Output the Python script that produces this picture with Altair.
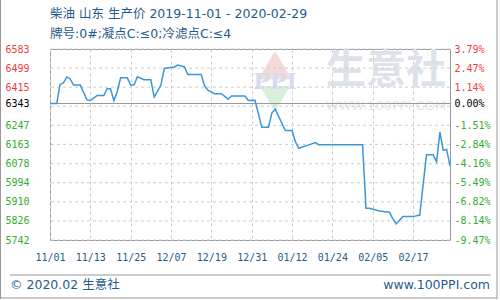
import json
import altair as alt
import pandas as pd

# ---- data ----
dates = ["2019-11-01", "2019-11-03", "2019-11-04", "2019-11-05", "2019-11-06", "2019-11-07",
         "2019-11-08", "2019-11-10", "2019-11-12", "2019-11-13", "2019-11-15", "2019-11-17",
         "2019-11-18", "2019-11-19", "2019-11-20", "2019-11-21", "2019-11-22", "2019-11-24",
         "2019-11-25", "2019-11-26", "2019-11-27", "2019-11-29", "2019-12-01", "2019-12-02",
         "2019-12-04", "2019-12-05", "2019-12-08", "2019-12-09", "2019-12-11", "2019-12-12",
         "2019-12-16", "2019-12-17", "2019-12-18", "2019-12-20", "2019-12-22", "2019-12-24",
         "2019-12-25", "2019-12-29", "2019-12-30", "2020-01-01", "2020-01-03", "2020-01-05",
         "2020-01-06", "2020-01-07", "2020-01-10", "2020-01-12", "2020-01-13", "2020-01-14",
         "2020-01-17", "2020-01-19", "2020-01-20", "2020-02-02", "2020-02-03", "2020-02-04",
         "2020-02-07", "2020-02-10", "2020-02-11", "2020-02-12", "2020-02-14", "2020-02-17",
         "2020-02-19", "2020-02-21", "2020-02-23", "2020-02-24", "2020-02-25", "2020-02-26",
         "2020-02-27", "2020-02-28"]
prices = [6343, 6343, 6427, 6434, 6460, 6451,
          6424, 6424, 6359, 6356, 6378, 6378,
          6408, 6408, 6356, 6395, 6456, 6456,
          6424, 6424, 6461, 6448, 6448, 6371,
          6424, 6497, 6504, 6512, 6504, 6471,
          6471, 6420, 6402, 6386, 6386, 6362,
          6376, 6376, 6356, 6357, 6239, 6239,
          6301, 6318, 6224, 6224, 6175, 6146,
          6161, 6171, 6161, 6161, 5882, 5882,
          5870, 5864, 5835, 5813, 5845, 5845,
          5852, 6117, 6117, 6086, 6217, 6137,
          6141, 6068]

base_price = 6343
y_ticks = [5742, 5826, 5910, 5994, 6078, 6163, 6247, 6343, 6415, 6499, 6583]
pct_labels = ["-9.47%", "-8.14%", "-6.82%", "-5.49%", "-4.16%", "-2.84%", "-1.51%",
              "0.00%", "1.14%", "2.47%", "3.79%"]
grid_values = [5742, 5826, 5910, 5994, 6078, 6163, 6247, 6331, 6415, 6499, 6583]
x_tick_dates = [(2019, 11, 1), (2019, 11, 13), (2019, 11, 25), (2019, 12, 7), (2019, 12, 19),
                (2019, 12, 31), (2020, 1, 12), (2020, 1, 24), (2020, 2, 5), (2020, 2, 17)]
x_domain = [(2019, 11, 1), (2020, 2, 28)]

title_text = "柴油 山东 生产价 2019-11-01 - 2020-02-29"
subtitle_text = "牌号:0#;凝点C:≤0;冷滤点C:≤4"
footer_left = "© 2020.02 生意社"
footer_right = "www.100PPI.com"

# ---- styles ----
RED = "#f43a3a"
GREEN = "#2fae2f"
BLUE_TXT = "#1f5c8b"
LINE = "#3b97d9"
FONT = "DejaVu Sans, Noto Sans CJK SC"
MONO = "DejaVu Sans Mono"

def dt(t):
    return alt.DateTime(year=t[0], month=t[1], date=t[2], utc=True)

df = pd.DataFrame({"date": dates, "price": prices})
grid_df = pd.DataFrame({"g": grid_values})
base_df = pd.DataFrame({"b": [base_price]})

yscale = alt.Scale(domain=[y_ticks[0], y_ticks[-1]], nice=False, zero=False)
label_color = {
    "condition": [
        {"test": f"datum.value > {base_price + 1}", "value": RED},
        {"test": f"datum.value < {base_price - 1}", "value": GREEN},
    ],
    "value": "#000000",
}

grid = alt.Chart(grid_df).mark_rule(color="#cccccc", strokeDash=[3, 3], strokeWidth=1).encode(
    y=alt.Y("g:Q", scale=yscale, axis=None)
)

baseline = alt.Chart(base_df).mark_rule(color="#999999", strokeWidth=1).encode(
    y=alt.Y(
        "b:Q",
        scale=yscale,
        axis=alt.Axis(
            orient="right", values=y_ticks, title=None, ticks=False, domain=False, grid=False,
            labelExpr=f"{json.dumps(pct_labels)}[indexof({json.dumps(y_ticks)}, datum.value)]",
            labelColor=label_color, labelFont=MONO, labelFontSize=10, labelAlign="left",
            labelPadding=4, labelBaseline="middle", labelOverlap=False,
        ),
    )
)

line = alt.Chart(df).mark_line(color=LINE, strokeWidth=1.5, interpolate="linear").encode(
    x=alt.X(
        "date:T",
        scale=alt.Scale(type="utc", domain=[dt(x_domain[0]), dt(x_domain[1])]),
        axis=alt.Axis(
            values=[dt(t) for t in x_tick_dates], format="%m/%d", title=None, ticks=False,
            domain=False, grid=True, gridColor="#cccccc", gridDash=[3, 3], labelColor=BLUE_TXT,
            labelFont=MONO, labelFontSize=10, labelPadding=12, labelOverlap=False,
            labelFlush=False,
        ),
    ),
    y=alt.Y(
        "price:Q",
        scale=yscale,
        axis=alt.Axis(
            orient="left", values=y_ticks, format="d", title=None, ticks=False, domain=False,
            grid=False, labelColor=label_color, labelFont=MONO, labelFontSize=10,
            labelPadding=21, labelBaseline="middle", labelOverlap=False,
        ),
    ),
)

def txt(text, x, y, size, color, align="left", weight="normal", font=FONT):
    return alt.Chart(pd.DataFrame({"t": [text]})).mark_text(
        align=align, baseline="middle", fontSize=size, color=color, fontWeight=weight, font=font
    ).encode(text="t:N", x=alt.value(x), y=alt.value(y))

# watermark
wm_roof = alt.Chart(pd.DataFrame({"k": [0]})).mark_point(
    shape="triangle-up", filled=True, color="#f6d9d9", size=1100, opacity=1
).encode(x=alt.value(225), y=alt.value(16))
wm_leaf = alt.Chart(pd.DataFrame({"k": [0]})).mark_point(
    shape="triangle-down", filled=True, color="#d9efdc", size=900, opacity=1
).encode(x=alt.value(225), y=alt.value(50))
wm_ppi = txt("PPI", 225, 33, 22, "#d5dcee", align="center", weight="bold", font="DejaVu Serif")
wm_name = txt("生意社", 336, 22, 40, "#dde2ea", align="center", weight="bold")
wm_url = txt("WWW.100PPI.COM", 336, 57, 13, "#e6e6e6", align="center")

title = txt(title_text, 0, -35, 12.5, BLUE_TXT)
subtitle = txt(subtitle_text, 0, -15, 12.5, BLUE_TXT)
foot_l = txt(footer_left, -40, 236, 12.5, BLUE_TXT)
foot_r = txt(footer_right, 440, 236, 12.5, BLUE_TXT, align="right")

one = pd.DataFrame({"k": [0]})
foot_line = alt.Chart(one).mark_rule(color="#999999").encode(
    x=alt.value(-40), x2=alt.value(441), y=alt.value(226)
)
frame_l = alt.Chart(one).mark_rule(color="#999999").encode(
    x=alt.value(-49.5), y=alt.value(-49), y2=alt.value(250)
)
frame_r = alt.Chart(one).mark_rule(color="#999999").encode(
    x=alt.value(447), y=alt.value(-49), y2=alt.value(250)
)
frame_b = alt.Chart(one).mark_rule(color="#999999").encode(
    x=alt.value(-50), x2=alt.value(447), y=alt.value(249)
)

chart = alt.layer(
    wm_roof, wm_leaf, wm_ppi, wm_name, wm_url,
    grid, baseline, line,
    title, subtitle, foot_line, foot_l, foot_r, frame_l, frame_r, frame_b,
).resolve_axis(y="independent").properties(
    width=400, height=191,
    autosize=alt.AutoSizeParams(type="none"),
    padding={"left": 50, "top": 49, "right": 50, "bottom": 60},
    background="white",
).configure_view(stroke="#999999", strokeWidth=1)

chart.save("out.html", embed_options={"renderer": "svg", "actions": False})
